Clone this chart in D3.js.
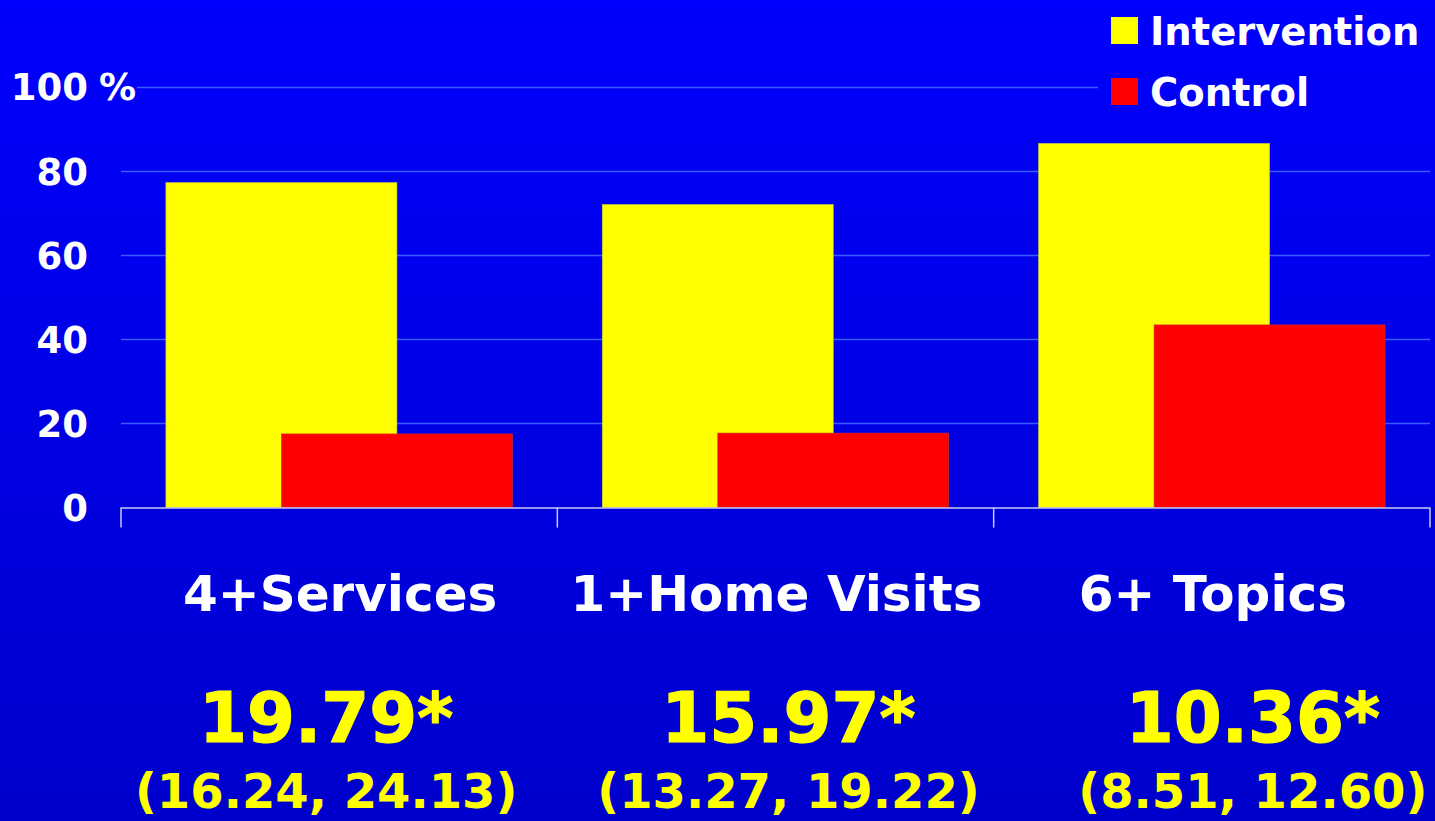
<!DOCTYPE html>
<html lang="en">
<head>
  <meta charset="UTF-8">
  <script src="https://d3js.org/d3.v7.min.js"></script>
  <title>Intervention vs Control</title>
  <style>
    html, body { margin: 0; padding: 0; background: #0000e6; }
    svg { display: block; }
    text { font-family: "DejaVu Sans", Verdana, sans-serif; font-weight: bold; }
  </style>
</head>
<body>
<div id="chart"></div>
<script>
  // data
  const categories = ["4+Services", "1+Home Visits", "6+ Topics"];
  const series = ["Intervention", "Control"];
  const intervention = [77.2, 72.0, 86.5];
  const control = [17.5, 17.7, 43.4];
  const ratios = ["19.79*", "15.97*", "10.36*"];
  const intervals = ["(16.24, 24.13)", "(13.27, 19.22)", "(8.51, 12.60)"];
  const yTicks = [0, 20, 40, 60, 80, 100];

  const width = 1435;
  const height = 821;
  const colors = ["#ffff00", "#ff0000"];

  const svg = d3.select("#chart").append("svg")
    .attr("width", width)
    .attr("height", height);

  // background gradient, bright blue at the top getting darker downwards
  const defs = svg.append("defs");
  const grad = defs.append("linearGradient")
    .attr("id", "bg")
    .attr("gradientUnits", "userSpaceOnUse")
    .attr("x1", 0).attr("y1", 0).attr("x2", 0).attr("y2", height);
  grad.append("stop").attr("offset", "0%").attr("stop-color", "#0000fe");
  grad.append("stop").attr("offset", "100%").attr("stop-color", "#0000cc");

  svg.append("rect").attr("width", width).attr("height", height).attr("fill", "url(#bg)");

  const x = d3.scaleBand().domain(categories).range([121, 1430]);
  const y = d3.scaleLinear().domain([0, 100]).range([507.6, 86.6]);

  // gridlines
  svg.append("g")
    .selectAll("line")
    .data(yTicks.filter(d => d > 0))
    .join("line")
    .attr("x1", d => d === 100 ? 137 : 121).attr("x2", 1430)
    .attr("y1", d => Math.round(y(d)) + 0.5).attr("y2", d => Math.round(y(d)) + 0.5)
    .attr("stroke", "#3a5cff")
    .attr("stroke-width", 1.5);

  // bars: yellow then red, red shifted half a bar to the right and overlapping
  const barW = 231;
  const rows = categories.map((c, i) => ({ c, vals: [intervention[i], control[i]] }));
  const groups = svg.append("g").selectAll("g")
    .data(rows)
    .join("g")
    .attr("transform", d => `translate(${x(d.c) + x.bandwidth() / 2 - barW * 0.75},0)`);

  groups.selectAll("rect")
    .data(d => d.vals)
    .join("rect")
    .attr("x", (d, j) => j * barW / 2)
    .attr("y", d => y(d))
    .attr("width", barW)
    .attr("height", d => y(0) - y(d))
    .attr("fill", (d, j) => colors[j])
    .attr("stroke", (d, j) => j === 0 ? "#c8c840" : "#d03030")
    .attr("stroke-width", 0.6);

  // x axis line and category tick marks
  const xAxis = svg.append("g").attr("transform", `translate(0,${y(0)})`)
    .call(d3.axisBottom(x).tickSize(0).tickFormat(""));
  xAxis.select(".domain").remove();
  xAxis.append("line")
    .attr("x1", 121).attr("x2", 1430).attr("y1", 0.5).attr("y2", 0.5)
    .attr("stroke", "#c8c8f0").attr("stroke-width", 1.5);
  xAxis.selectAll(".sep")
    .data(categories.map(c => x(c)).concat([x.range()[1]]))
    .join("line")
    .attr("x1", d => d).attr("x2", d => d)
    .attr("y1", 0).attr("y2", 20)
    .attr("stroke", "#c8c8f0").attr("stroke-width", 1.5);

  // y axis labels
  const yAxis = svg.append("g").attr("transform", "translate(88,0)")
    .call(d3.axisLeft(y).tickValues(yTicks).tickSize(0).tickPadding(0).tickFormat(d3.format("d")));
  yAxis.select(".domain").remove();
  yAxis.selectAll(".tick text")
    .attr("fill", "#ffffff")
    .attr("font-size", 37)
    .attr("font-family", "\"DejaVu Sans\", sans-serif")
    .attr("font-weight", "bold")
    .attr("dy", "0.36em");
  svg.append("text")
    .attr("x", 99).attr("y", y(100) + 13)
    .attr("fill", "#ffffff")
    .attr("font-size", 37)
    .attr("font-weight", "normal")
    .text("%");

  // legend
  const legend = svg.append("g").attr("transform", "translate(1098,0)");
  legend.append("rect").attr("x", 0).attr("y", 0).attr("width", 337).attr("height", 115).attr("fill", "url(#bg)");
  const items = legend.selectAll(".item")
    .data(series)
    .join("g")
    .attr("transform", (d, i) => `translate(0,${i * 61})`);
  items.append("rect")
    .attr("x", 13).attr("y", 17).attr("width", 27).attr("height", 27)
    .attr("fill", (d, i) => colors[i]);
  items.append("text")
    .attr("x", 52).attr("y", 45)
    .attr("fill", "#ffffff")
    .attr("font-size", 38.5)
    .text(d => d);

  // category names and odds ratios beneath the axis
  const nudge = [-13, 13, 41];
  const below = svg.append("g");
  below.selectAll(".cat")
    .data(categories)
    .join("text")
    .attr("class", "cat")
    .attr("x", d => x(d) + x.bandwidth() / 2 + 1)
    .attr("y", 611)
    .attr("text-anchor", "middle")
    .attr("fill", "#ffffff")
    .attr("font-size", 50)
    .text(d => d);
  below.selectAll(".ratio")
    .data(ratios)
    .join("text")
    .attr("class", "ratio")
    .attr("x", (d, i) => x(categories[i]) + x.bandwidth() / 2 + nudge[i])
    .attr("y", 742)
    .attr("text-anchor", "middle")
    .attr("fill", "#ffff00")
    .attr("font-size", 69)
    .attr("stroke", "#ffff00")
    .attr("stroke-width", 1.2)
    .text(d => d);
  below.selectAll(".ci")
    .data(intervals)
    .join("text")
    .attr("class", "ci")
    .attr("x", (d, i) => x(categories[i]) + x.bandwidth() / 2 + nudge[i])
    .attr("y", 808)
    .attr("text-anchor", "middle")
    .attr("fill", "#ffff00")
    .attr("font-size", 48)
    .text(d => d);
</script>
</body>
</html>
